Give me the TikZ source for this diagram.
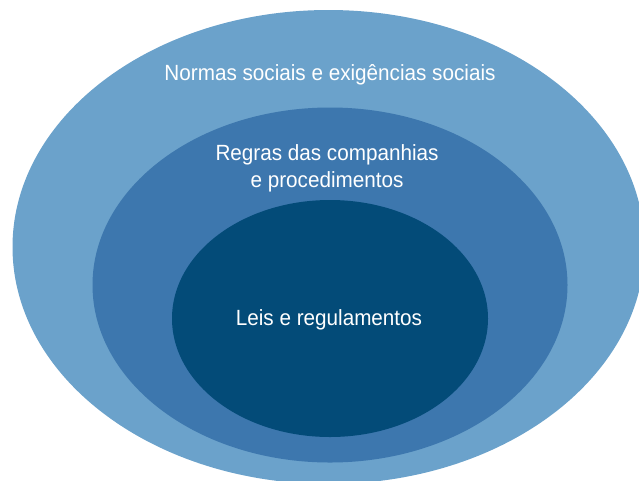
\documentclass[tikz,border=0pt]{standalone}
\usepackage{fontspec}
\setmainfont[FakeStretch=0.94]{Liberation Sans}
\usepackage{tikz}
\usetikzlibrary{shapes.geometric}
\definecolor{outerblue}{HTML}{6BA2CB}
\definecolor{midblue}{HTML}{3D77AE}
\definecolor{innerblue}{HTML}{034B78}

\begin{document}
\begin{tikzpicture}[x=1pt,y=-1pt]
% Define styles
\tikzstyle{ring} = [ellipse, inner sep=0pt, outer sep=0pt]
\tikzstyle{label} = [text=white, font=\fontsize{22}{27}\selectfont, align=center, anchor=base]
% Page
\useasboundingbox (0,0) rectangle (639,480);
\clip (0,0) rectangle (639,480);
% Rings
\node[ring, fill=outerblue, minimum width=632pt, minimum height=474pt] (normas) at (328.5,247) {};
\node[ring, fill=midblue, minimum width=475pt, minimum height=355pt] (regras) at (330,285) {};
\node[ring, fill=innerblue, minimum width=316pt, minimum height=237pt] (leis) at (330,318.5) {};
% Labels
\node[label] (normas_t) at (330,80) {Normas sociais e exigências sociais};
\node[label] (regras_t) at (327,187) {Regras das companhias\\e procedimentos};
\node[label] (leis_t) at (329,325.5) {Leis e regulamentos};
\end{tikzpicture}
\end{document}
